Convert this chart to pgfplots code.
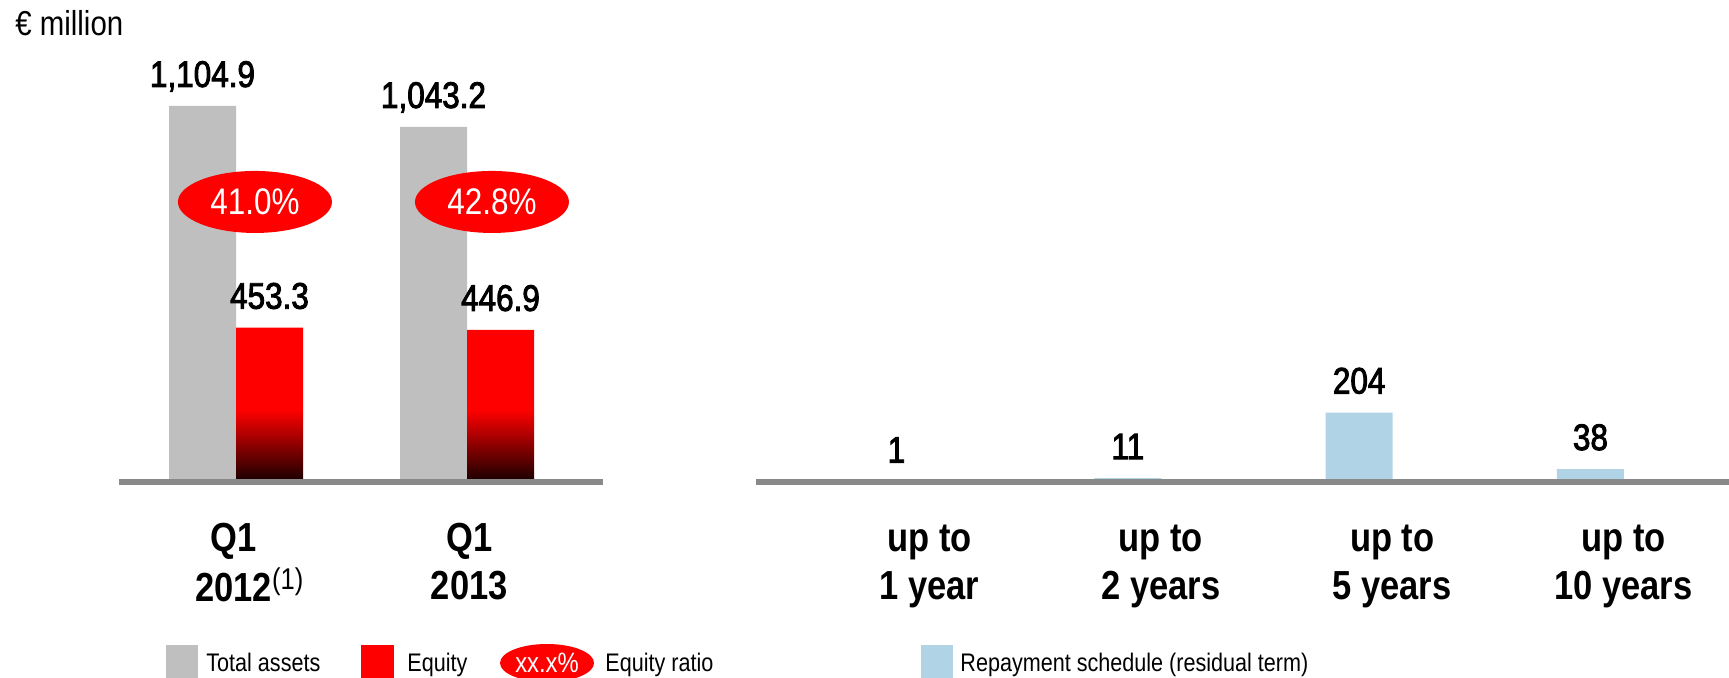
\documentclass[border=0pt]{standalone}
\usepackage{pgfplots}
\pgfplotsset{compat=1.18}
\usepackage{pgfplotstable}
\usepackage{fontspec}
\setmainfont{Liberation Sans}[FakeStretch=0.85]
\newfontfamily\medfont{Liberation Sans}[FakeStretch=0.85, FakeBold=2.4]
\usetikzlibrary{shapes.geometric}
\definecolor{barGray}{RGB}{191,191,191}
\definecolor{axGray}{RGB}{137,137,137}
\definecolor{repBlue}{RGB}{176,212,230}
\definecolor{deepRed}{RGB}{22,0,0}
\pgfdeclareverticalshading{redfade}{100bp}{color(0bp)=(deepRed); color(25bp)=(deepRed); color(48.5bp)=(red); color(75bp)=(red); color(100bp)=(red)}
\newcommand\valfont{\medfont\fontsize{18.5}{21}\selectfont}
\newcommand\catfont{\fontsize{20.3}{24}\selectfont\bfseries}
\newcommand\ellfont{\fontsize{18.5}{21}\selectfont}
\newcommand\legfont{\fontsize{12.7}{15}\selectfont}
\newcommand\fn{\rlap{\raisebox{6pt}{\mdseries\fontsize{15}{15}\selectfont(1)}}}

\pgfplotstableread{
x y lab
0 1104.9 {1,104.9}
1 1043.2 {1,043.2}
}\assets
\pgfplotstableread{
x y lab
0 453.3 {453.3}
1 446.9 {446.9}
}\equity
\pgfplotstableread{
x y lab
0 1 {1}
1 11 {11}
2 204 {204}
3 38 {38}
}\repay

\pgfplotsset{
  panel/.style={
    anchor=south west, scale only axis,
    ymin=0, ymax=1200, height=204.2pt,
    axis x line=bottom, axis y line=none,
    x axis line style={-, line width=3pt, color=axGray},
    major tick length=0pt, ytick=\empty,
    xticklabel style={font=\catfont, inner sep=0pt, yshift=-17.7pt, align=center, anchor=north},
    clip=false, axis on top,
    point meta=explicit symbolic,
    nodes near coords,
    every node near coord/.append style={font=\valfont, anchor=base, inner sep=0pt, yshift=9.5pt, text=black},
  }
}

\begin{document}
\begin{tikzpicture}
\useasboundingbox (0,0) rectangle (864.5pt,339pt);
\begin{axis}[panel,
  at={(59.5pt,98pt)}, width=242pt,
  xmin=-0.5065, xmax=1.5887,
  xtick={-0.01,1.01},
  xticklabels={{\strut Q1\\2012\fn},{\strut Q1\\2013}},
]
\addplot[ybar, bar width=33.5pt, bar shift=-16.75pt, fill=barGray, draw=none,
  every node near coord/.append style={xshift=-16.75pt}] table[x=x, y=y, meta=lab] {\assets};
\addplot[ybar, bar width=33.5pt, bar shift=16.75pt, shade, shading=redfade, draw=none,
  every node near coord/.append style={xshift=16.75pt}] table[x=x, y=y, meta=lab] {\equity};
\node[ellipse, fill=red, minimum width=77pt, minimum height=31pt, inner sep=0pt, text=white, font=\ellfont] at (axis cs:0.082,822.8) {41.0\%};
\node[ellipse, fill=red, minimum width=77pt, minimum height=31pt, inner sep=0pt, text=white, font=\ellfont] at (axis cs:1.108,822.8) {42.8\%};
\end{axis}
\begin{axis}[panel,
  at={(378pt,98pt)}, width=486.5pt,
  xmin=-0.6074, xmax=3.5988,
  xtick={0.1427,1.1427,2.1427,3.1427},
  xticklabels={{\strut up to\\1 year},{\strut up to\\2 years},{\strut up to\\5 years},{\strut up to\\10 years}},
]
\addplot[ybar, bar width=33.5pt, bar shift=0pt, fill=repBlue, draw=none] table[x=x, y=y, meta=lab] {\repay};
\end{axis}
% unit label
\node[anchor=base west, inner sep=0pt, font=\fontsize{17.3}{20}\selectfont] at (7.5pt,321pt) {€ million};
% legend
\fill[barGray] (83pt,-1pt) rectangle (99pt,16.5pt);
\node[anchor=base west, inner sep=0pt, font=\legfont] at (103pt,3pt) {Total assets};
\fill[red] (180.5pt,-1pt) rectangle (197pt,16.5pt);
\node[anchor=base west, inner sep=0pt, font=\legfont] at (203.5pt,3pt) {Equity};
\node[ellipse, fill=red, minimum width=47pt, minimum height=19pt, inner sep=0pt, text=white, font=\fontsize{14}{16}\selectfont] at (273.5pt,7.5pt) {xx.x\%};
\node[anchor=base west, inner sep=0pt, font=\legfont] at (302.5pt,3pt) {Equity ratio};
\fill[repBlue] (460.5pt,-1pt) rectangle (476.5pt,16.5pt);
\node[anchor=base west, inner sep=0pt, font=\legfont] at (480pt,3pt) {Repayment schedule (residual term)};
\end{tikzpicture}
\end{document}
